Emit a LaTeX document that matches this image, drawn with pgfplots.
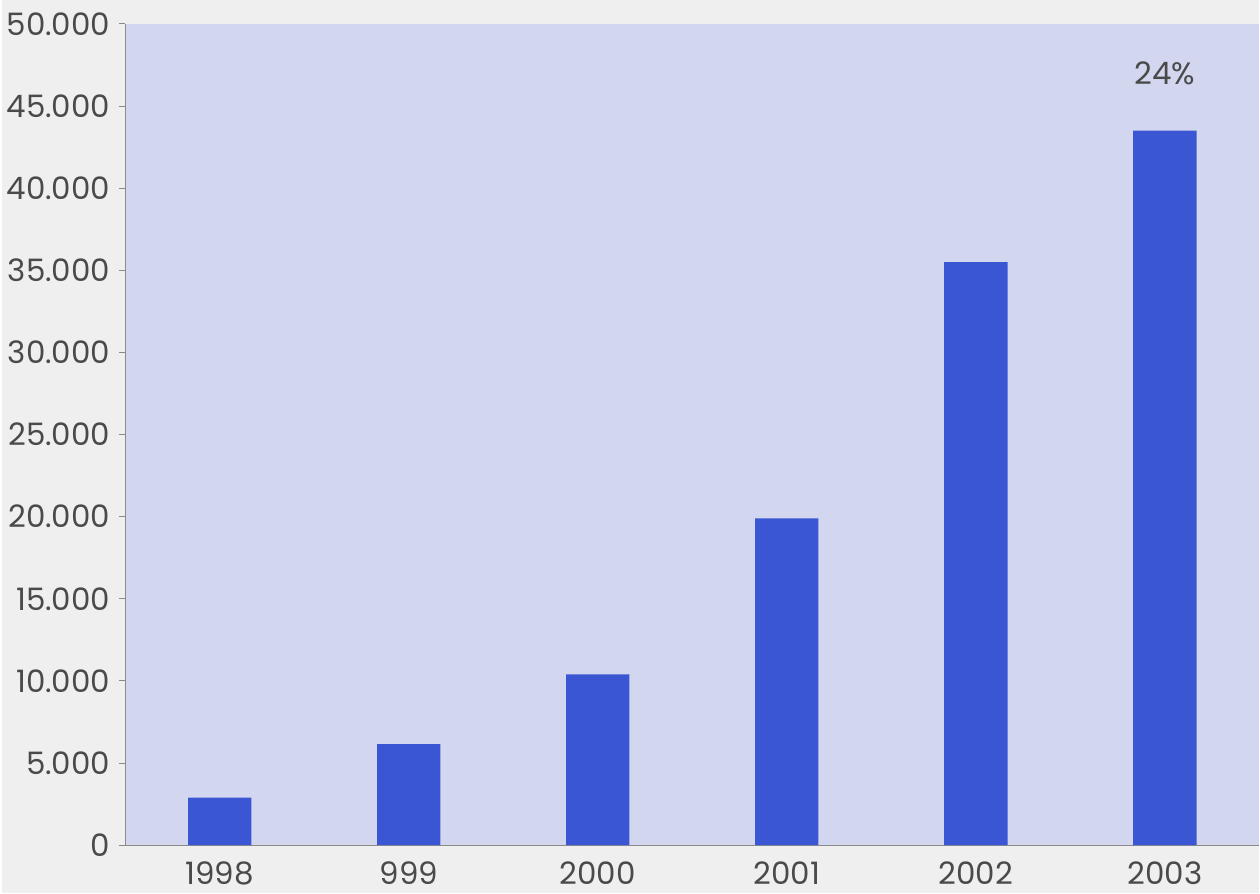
\documentclass[border=0pt]{standalone}
\usepackage{pgfplots}
\pgfplotsset{compat=1.18}
\usepackage{fontspec}
\setmainfont{Poppins}
\definecolor{bgpage}{HTML}{EFEFEF}
\definecolor{plotbg}{HTML}{D2D7EF}
\definecolor{barblue}{HTML}{3B56D3}
\definecolor{txt}{HTML}{4A4A4A}
\definecolor{axline}{HTML}{8A8A8A}
\begin{document}
\begin{tikzpicture}
\fill[bgpage] (-62pt,-24pt) rectangle (569pt,424pt);
\begin{axis}[
  at={(0,0)}, anchor=south west,
  scale only axis,
  width=569pt, height=412pt,
  xmin=-0.5, xmax=5.5,
  ymin=0, ymax=50000,
  axis background/.style={fill=plotbg},
  axis x line*=bottom, axis y line*=left,
  axis line style={axline, line width=0.6pt},
  xtick={0,1,2,3,4,5},
  xticklabels={1998,999,2000,2001,2002,2003},
  x tick style={draw=none},
  extra x ticks={0.5,1.5,2.5,3.5,4.5},
  extra x tick labels={},
  extra x tick style={tick style={draw=axline, line width=0.5pt}, major tick length=3pt, tick align=outside},
  ytick distance=5000,
  y tick style={draw=axline, line width=0.5pt},
  major tick length=3pt,
  tick align=outside,
  scaled y ticks=false,
  /pgf/number format/.cd, 1000 sep={.}, assume math mode=true,
  /pgfplots/.cd,
  tick label style={font=\fontsize{15.5}{18}\selectfont, text=txt},
  yticklabel style={xshift=-1pt},
  xticklabel style={yshift=-2pt},
]
\addplot[ybar, bar width=0.335, fill=barblue, draw=none] coordinates {
  (0,2900) (1,6150) (2,10400) (3,19900) (4,35500) (5,43500)
};
\node[text=txt, font=\fontsize{15.5}{18}\selectfont] at (axis cs:5,47000) {24\%};
\end{axis}
\end{tikzpicture}
\end{document}
